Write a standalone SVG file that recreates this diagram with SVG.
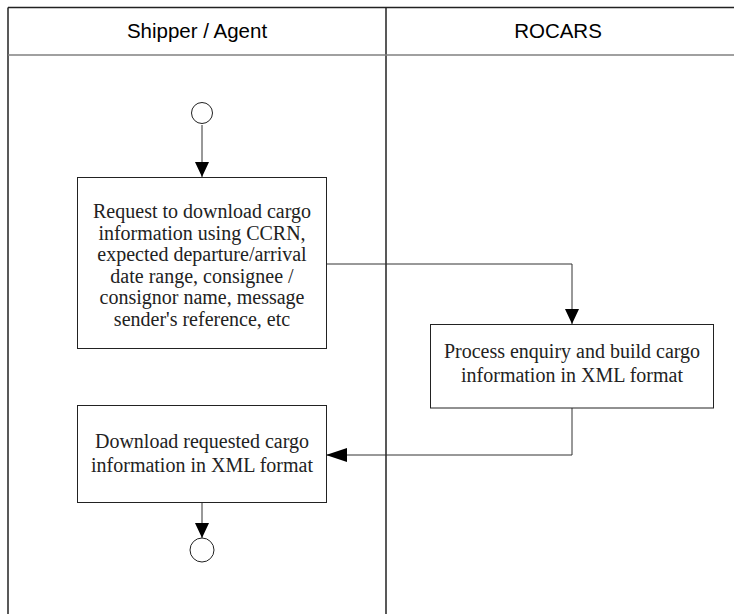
<svg xmlns="http://www.w3.org/2000/svg" width="734" height="614" viewBox="0 0 734 614">
<defs>
<style>
.lane{stroke:#222;stroke-width:1.5;fill:none}
.hdr{stroke:#808080;stroke-width:1.5;fill:none}
.box{fill:#fff;stroke:#222;stroke-width:1}
.conn{fill:none;stroke:#333;stroke-width:1}
.ht{font-family:"Liberation Sans",Arial,sans-serif;font-size:20.5px;text-anchor:middle;fill:#000}
.bt{font-family:"Liberation Serif","Times New Roman",serif;font-size:20px;text-anchor:middle;fill:#222}
.term{fill:#fff;stroke:#222;stroke-width:1}
</style>
<marker id="av" markerUnits="userSpaceOnUse" markerWidth="16" markerHeight="16" refX="15" refY="7" orient="auto">
<path d="M0,0 L15,7 L0,14 z" fill="#000"/>
</marker>
<marker id="ah" markerUnits="userSpaceOnUse" markerWidth="22" markerHeight="16" refX="21" refY="7" orient="auto">
<path d="M0,0 L21,7 L0,14 z" fill="#000"/>
</marker>
</defs>
<g id="lanes">
<line class="lane" x1="8" y1="7.5" x2="734" y2="7.5"/>
<line class="lane" x1="8" y1="7.5" x2="8" y2="614"/>
<line class="lane" x1="386" y1="7.5" x2="386" y2="614"/>
<line class="hdr" x1="8" y1="55" x2="734" y2="55"/>
<text class="ht" x="197" y="38">Shipper / Agent</text>
<text class="ht" x="558" y="38">ROCARS</text>
</g>
<g id="connectors">
<line class="conn" x1="202" y1="125" x2="202" y2="177" marker-end="url(#av)"/>
<polyline class="conn" points="326,264 572,264 572,324" marker-end="url(#av)"/>
<polyline class="conn" points="572,408 572,455 326,455" marker-end="url(#ah)"/>
<line class="conn" x1="202" y1="502" x2="202" y2="538" marker-end="url(#av)"/>
</g>
<g id="start"><circle class="term" cx="202" cy="113" r="10.5"/></g>
<g id="request">
<rect class="box" x="77.5" y="177.5" width="249" height="171"/>
<text class="bt" x="202" y="218">Request to download cargo</text>
<text class="bt" x="202" y="239.5">information using CCRN,</text>
<text class="bt" x="202" y="261">expected departure/arrival</text>
<text class="bt" x="202" y="282.5">date range, consignee /</text>
<text class="bt" x="202" y="304">consignor name, message</text>
<text class="bt" x="202" y="325.5">sender's reference, etc</text>
</g>
<g id="process">
<rect class="box" x="430.5" y="324.5" width="283" height="83.5"/>
<text class="bt" x="572" y="358">Process enquiry and build cargo</text>
<text class="bt" x="572" y="382">information in XML format</text>
</g>
<g id="download">
<rect class="box" x="77.5" y="405.5" width="249" height="97"/>
<text class="bt" x="202" y="448">Download requested cargo</text>
<text class="bt" x="202" y="472">information in XML format</text>
</g>
<g id="end"><circle class="term" cx="202" cy="550" r="12"/></g>
</svg>
